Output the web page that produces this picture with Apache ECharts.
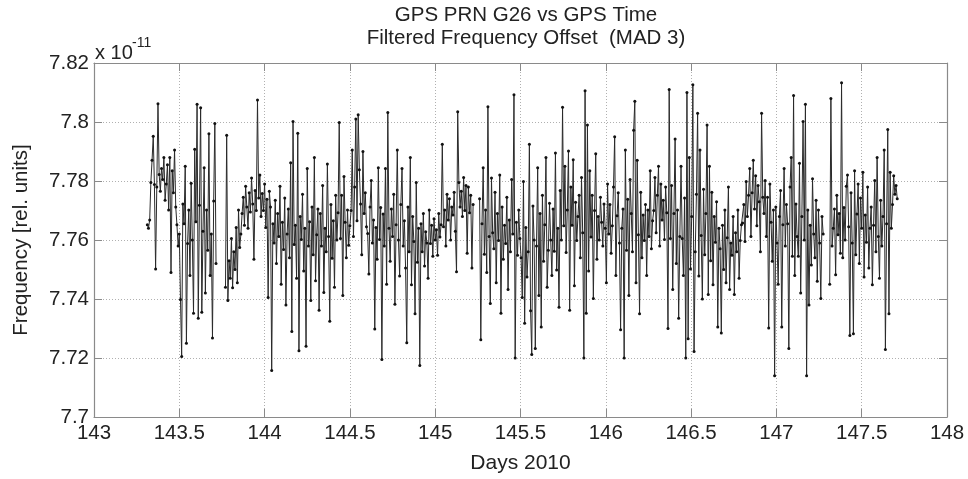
<!DOCTYPE html>
<html>
<head>
<meta charset="utf-8">
<title>GPS PRN G26 vs GPS Time</title>
<script src="https://cdn.jsdelivr.net/npm/echarts@6/dist/echarts.min.js"></script>
<style>
  html, body { margin: 0; padding: 0; background: #fff; }
  #chart { width: 968px; height: 479px; }
</style>
</head>
<body>
<div id="chart"></div>
<script>
// Filtered frequency offset of GPS PRN G26, in units of 1e-11, sampled every 10 minutes.
// Each contiguous run of samples is its own segment; the short outages between them stay blank.
const sampleStep = 1 / 144; // 10 min in days

const segAStart = 143.3125;
const segA = [
  7.7652, 7.7640, 7.7668, 7.7795, 7.7870, 7.7952, 7.7788, 7.7502, 7.7780, 7.8062,
  7.7822, 7.7765, 7.7842, 7.7805, 7.7880, 7.7735, 7.7790, 7.7855, 7.7702, 7.7880,
  7.7490, 7.7835, 7.7760, 7.7905, 7.7712, 7.7652,
  7.7580, 7.7620, 7.7398, 7.7205, 7.7722, 7.7655, 7.7850, 7.7250, 7.7588, 7.7702,
  7.7480, 7.7792, 7.7600, 7.7352, 7.7908, 7.7662, 7.8060, 7.7335, 7.7718, 7.8048,
  7.7355, 7.7630, 7.7845, 7.7420, 7.7702, 7.7565, 7.7960, 7.7480, 7.7620, 7.7268,
  7.7732, 7.7995, 7.7520
];

const segBStart = 143.7708;
const segB = [
  7.7440, 7.7955, 7.7395, 7.7530, 7.7470, 7.7605, 7.7438, 7.7560, 7.7500, 7.7642,
  7.7455, 7.7702, 7.7575,
  7.7620, 7.7690, 7.7745, 7.7650, 7.7782, 7.7712, 7.7640, 7.7760, 7.7695, 7.7810,
  7.7722, 7.7535, 7.7768, 7.7700, 7.8075, 7.7742, 7.7820, 7.7680, 7.7758, 7.7700,
  7.7790, 7.7642, 7.7738, 7.7405, 7.7765,
  7.7712, 7.7158, 7.7655, 7.7590, 7.7735, 7.7520, 7.7690, 7.7612, 7.7782, 7.7450,
  7.7660, 7.7568, 7.7742, 7.7380, 7.7620, 7.7705, 7.7540, 7.7862, 7.7290, 7.8002,
  7.7585, 7.7650, 7.7470, 7.7962, 7.7225, 7.7680, 7.7602, 7.7755, 7.7495, 7.7640,
  7.7240, 7.7842, 7.7580, 7.7662, 7.7395, 7.7712, 7.7550, 7.7880, 7.7462, 7.7618,
  7.7705, 7.7362, 7.7690, 7.7580, 7.7785, 7.7422, 7.7640, 7.7560, 7.7858, 7.7612,
  7.7325, 7.7720, 7.7538, 7.7665, 7.7440, 7.7752, 7.7600, 7.7692, 7.7998, 7.7605,
  7.7752, 7.7412, 7.7815, 7.7660, 7.7540, 7.7702, 7.7582, 7.7648,
  7.7700, 7.7905, 7.7612, 7.7780, 7.8010, 7.7665, 7.8025, 7.7838, 7.7722, 7.7550,
  7.7900, 7.7690, 7.7760, 7.7645,
  7.7622, 7.7485, 7.7712, 7.7802, 7.7590, 7.7668, 7.7298, 7.7642, 7.7535, 7.7845,
  7.7602, 7.7710, 7.7195, 7.7688, 7.7580, 7.7842, 7.7450, 7.8032, 7.7640, 7.7528,
  7.7705, 7.7612,
  7.7755, 7.7382, 7.7652, 7.7905, 7.7600, 7.7478, 7.7720, 7.7842, 7.7580, 7.7665,
  7.7505, 7.7252, 7.7712, 7.7560, 7.7880, 7.7448, 7.7680, 7.7595, 7.7350, 7.7795,
  7.7525, 7.7640,
  7.7175, 7.7655, 7.7560, 7.7690, 7.7512, 7.7628, 7.7590, 7.7470, 7.7702, 7.7588,
  7.7650, 7.7545, 7.7672, 7.7600, 7.7635, 7.7548, 7.7690, 7.7610, 7.7652,
  7.7925, 7.7645, 7.7702, 7.7580, 7.7755, 7.7668, 7.7740, 7.7600, 7.7712, 7.7685,
  7.7762, 7.7630, 7.7492, 7.8035, 7.7795, 7.7712, 7.7765, 7.7680, 7.7812, 7.7700,
  7.7785, 7.7555, 7.7780, 7.7692, 7.7752, 7.7505, 7.7720
];

const segCStart = 145.2604;
const segC = [
  7.7740, 7.7262, 7.7655, 7.7845, 7.7552, 7.7702, 7.7490, 7.8052, 7.7612, 7.7385,
  7.7810, 7.7625, 7.7570, 7.7762, 7.7455, 7.7690, 7.7598, 7.7820, 7.7352, 7.7712,
  7.7535, 7.7650, 7.7588, 7.7745, 7.7432, 7.7668, 7.7560, 7.7805, 7.7620, 7.8092,
  7.7200, 7.7660, 7.7548, 7.7702, 7.7605,
  7.7540, 7.7405, 7.7798, 7.7318, 7.7642, 7.7475, 7.7560, 7.7925, 7.7360, 7.7212,
  7.7715, 7.7600, 7.7232, 7.7580, 7.7845, 7.7412, 7.7690, 7.7305, 7.7752, 7.7528,
  7.7652, 7.7880, 7.7440, 7.7565, 7.7725, 7.7600, 7.7480, 7.7705, 7.7562, 7.7895,
  7.7498, 7.7640, 7.7372, 7.7768, 7.7600, 7.8050,
  7.7648, 7.7850, 7.7558, 7.7702, 7.7902, 7.7362, 7.7780, 7.7650, 7.7872, 7.7445,
  7.7728, 7.7598, 7.7680, 7.7752, 7.7540, 7.7812, 7.7625, 7.7200, 7.8106, 7.7352,
  7.7990, 7.7495, 7.7835, 7.7610, 7.7752, 7.7402, 7.7700, 7.7892, 7.7535, 7.7680,
  7.7600, 7.7745, 7.7660, 7.7580, 7.7722, 7.7640, 7.7455, 7.7790, 7.7620,
  7.7720, 7.7555, 7.7648, 7.7780, 7.7950, 7.7480, 7.7682, 7.7760, 7.7590, 7.7296,
  7.7640, 7.7705, 7.7200, 7.7905, 7.7565, 7.7738, 7.7412, 7.7805, 7.7690, 7.7560,
  7.7972, 7.8070, 7.7455, 7.7870, 7.7618, 7.7350, 7.7762, 7.7540, 7.7685, 7.7598,
  7.7720, 7.7480, 7.7702, 7.7612, 7.7835, 7.7570, 7.7665,
  7.7700, 7.7812, 7.7625, 7.7752, 7.7850, 7.7580, 7.7790, 7.7668, 7.7735, 7.7602,
  7.7780, 7.7692, 7.7300, 7.8110,
  7.7605, 7.7785, 7.7432, 7.7690, 7.7942, 7.7520, 7.7702, 7.7335, 7.7612, 7.7850,
  7.7605, 7.7480, 7.7742, 7.7200, 7.8100, 7.7265, 7.7880, 7.7502, 7.7680, 7.8126,
  7.7222, 7.7560, 7.7755, 7.8030, 7.7478, 7.7905, 7.7615, 7.7400, 7.7772, 7.7550,
  7.7690, 7.7990, 7.7415, 7.7850, 7.7530, 7.7762, 7.7448, 7.7680, 7.7592, 7.7730,
  7.7305, 7.7640,
  7.7570, 7.7285, 7.7650, 7.7500, 7.7702, 7.7455, 7.7608, 7.7780, 7.7432, 7.7590,
  7.7548, 7.7680, 7.7415, 7.7625, 7.7560, 7.7702, 7.7470, 7.7598, 7.7652,
  7.7658, 7.7720, 7.7595, 7.7798, 7.7680, 7.7752, 7.7842, 7.7612, 7.7760, 7.7870,
  7.7705, 7.7818, 7.7648, 7.7785, 7.7730, 7.7560, 7.8030, 7.7745, 7.7690, 7.7802,
  7.7612, 7.7745, 7.7302, 7.7790, 7.7660, 7.7528, 7.7702, 7.7140, 7.7712, 7.7590,
  7.7450, 7.7680,
  7.7768, 7.7305, 7.7652, 7.7842, 7.7580, 7.7720, 7.7655, 7.7232, 7.7780, 7.7880,
  7.7545, 7.8090, 7.7480, 7.7722, 7.7612, 7.7545, 7.7860, 7.7420, 7.7680, 7.8002,
  7.7600, 7.8060, 7.7140, 7.7702, 7.7380, 7.7650, 7.7515, 7.7808, 7.7620, 7.7540,
  7.7735, 7.7460, 7.7702, 7.7590, 7.7402, 7.7680, 7.7620
];

const segDStart = 147.3125;
const segD = [
  7.7450, 7.8080, 7.7580, 7.7640, 7.7705, 7.7482, 7.7752, 7.7618, 7.7690, 7.7555,
  7.8133, 7.7540, 7.7710, 7.7600, 7.7782, 7.7820, 7.7645, 7.7276, 7.7760, 7.7590,
  7.7282, 7.7835, 7.7550, 7.7688, 7.7790, 7.7520, 7.7742, 7.7640, 7.7830, 7.7475,
  7.7685, 7.7592, 7.7780, 7.7505, 7.7640, 7.7712, 7.7448, 7.7650, 7.7802, 7.7560,
  7.7880, 7.7612, 7.7470, 7.7735, 7.7580, 7.7680, 7.7905, 7.7229, 7.7655, 7.7975,
  7.7350, 7.7830, 7.7640, 7.7720, 7.7818, 7.7755, 7.7785, 7.7740
];

const segments = [
  [segAStart, segA],
  [segBStart, segB],
  [segCStart, segC],
  [segDStart, segD]
];

const FONT = '"Liberation Sans", Arial, Helvetica, sans-serif';
const axisGray = '#8a8a8a';
const textColor = '#222';

function toPairs(start, values) {
  return values.map((v, i) => [start + i * sampleStep, v]);
}

const series = segments.map(([start, values]) => ({
  type: 'line',
  data: toPairs(start, values),
  xAxisIndex: 0,
  yAxisIndex: 0,
  showSymbol: true,
  showAllSymbol: true,
  symbol: 'circle',
  symbolSize: 3,
  itemStyle: { color: '#111' },
  lineStyle: { color: '#2a2a2a', width: 1 },
  emphasis: { disabled: true },
  silent: true,
  z: 3
}));

const chart = echarts.init(document.getElementById('chart'), null, { renderer: 'canvas' });

const baseX = { type: 'value', min: 143, max: 148, interval: 0.5 };
const baseY = { type: 'value', min: 7.70, max: 7.82, interval: 0.02 };

const boxLine = { show: true, onZero: false, lineStyle: { color: axisGray, width: 1.2 } };
const boxTick = { show: true, inside: true, length: 8, lineStyle: { color: axisGray } };
const gridDots = { show: true, lineStyle: { color: '#b0b0b0', type: [1, 2], width: 1 } };

chart.setOption({
  animation: false,
  backgroundColor: '#ffffff',
  title: {
    text: 'GPS PRN G26 vs GPS Time\nFiltered Frequency Offset  (MAD 3)',
    left: 521,
    top: -1,
    textAlign: 'center',
    textStyle: {
      fontFamily: FONT,
      fontSize: 20.5,
      fontWeight: 'normal',
      color: textColor,
      lineHeight: 23
    }
  },
  graphic: [
    {
      type: 'text',
      left: 95,
      top: 43,
      style: { text: 'x 10', font: '20px ' + FONT, fill: textColor }
    },
    {
      type: 'text',
      left: 132,
      top: 36,
      style: { text: '-11', font: '14px ' + FONT, fill: textColor }
    }
  ],
  grid: { left: 94, right: 21, top: 63, bottom: 59, containLabel: false },
  xAxis: [
    Object.assign({}, baseX, {
      position: 'bottom',
      name: 'Days 2010',
      nameLocation: 'middle',
      nameGap: 36,
      nameTextStyle: { fontFamily: FONT, fontSize: 21, color: textColor },
      axisLine: boxLine,
      axisTick: boxTick,
      axisLabel: { fontFamily: FONT, fontSize: 20.5, color: textColor, margin: 6 },
      splitLine: gridDots
    }),
    Object.assign({}, baseX, {
      position: 'top',
      axisLine: boxLine,
      axisTick: boxTick,
      axisLabel: { show: false },
      splitLine: { show: false }
    })
  ],
  yAxis: [
    Object.assign({}, baseY, {
      position: 'left',
      name: 'Frequency [rel. units]',
      nameLocation: 'middle',
      nameGap: 62,
      nameTextStyle: { fontFamily: FONT, fontSize: 20.5, color: textColor },
      axisLine: boxLine,
      axisTick: boxTick,
      axisLabel: { fontFamily: FONT, fontSize: 20.5, color: textColor, margin: 5 },
      splitLine: gridDots
    }),
    Object.assign({}, baseY, {
      position: 'right',
      axisLine: boxLine,
      axisTick: boxTick,
      axisLabel: { show: false },
      splitLine: { show: false }
    })
  ],
  series: series
});
</script>
</body>
</html>
